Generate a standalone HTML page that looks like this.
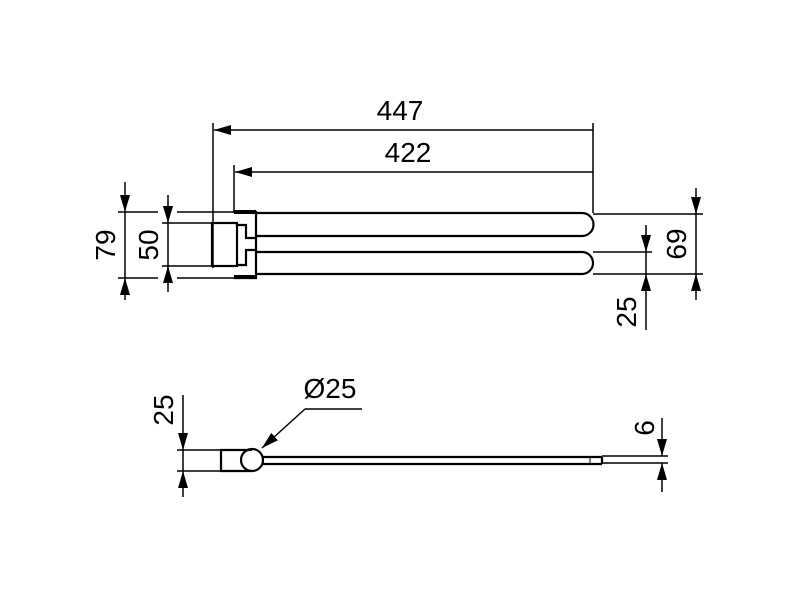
<!DOCTYPE html>
<html><head><meta charset="utf-8"><style>html,body{margin:0;padding:0;background:#fff}</style></head>
<body>
<svg width="800" height="600" viewBox="0 0 800 600" xmlns="http://www.w3.org/2000/svg" font-family="Liberation Sans, sans-serif" font-size="28">
<defs>
<marker id="a" viewBox="0 0 17 10" refX="17" refY="5" markerWidth="17" markerHeight="10" markerUnits="userSpaceOnUse" orient="auto"><path d="M0,0 L17,5 L0,10 z" fill="#000"/></marker>
</defs>
<g stroke="#000" stroke-width="1.5" fill="none">
<line x1="213" y1="123" x2="213" y2="268"/>
<line x1="234" y1="165" x2="234" y2="213"/>
<line x1="593" y1="123" x2="593" y2="213"/>
<line x1="593" y1="130" x2="214" y2="130" marker-end="url(#a)"/>
<line x1="593" y1="172" x2="235" y2="172" marker-end="url(#a)"/>
<line x1="118" y1="212" x2="158" y2="212"/><line x1="177" y1="212" x2="234" y2="212"/>
<line x1="118" y1="278" x2="158" y2="278"/><line x1="177" y1="278" x2="234" y2="278"/>
<line x1="162" y1="223" x2="212" y2="223"/><line x1="162" y1="266" x2="212" y2="266"/>
<line x1="125" y1="182" x2="125" y2="212" marker-end="url(#a)"/>
<line x1="125" y1="300" x2="125" y2="278" marker-end="url(#a)"/>
<line x1="125" y1="212" x2="125" y2="278"/>
<line x1="168" y1="195" x2="168" y2="223" marker-end="url(#a)"/>
<line x1="168" y1="292" x2="168" y2="266" marker-end="url(#a)"/>
<line x1="168" y1="223" x2="168" y2="266"/>
<g stroke-width="2.2">
<rect x="212" y="223" width="25" height="43"/>
<path d="M234 212 H256 V278 H234"/>
<path d="M237 223 V225 H246 V238 H256 M256 250 H246 V265 H237"/>
</g>
<line x1="234" y1="212" x2="256" y2="212" stroke-width="4"/>
<line x1="234" y1="277" x2="256" y2="277" stroke-width="4"/>
<g stroke-width="2.2">
<path d="M256 213 H582 A11.5 11.5 0 0 1 582 236 H256"/>
<path d="M256 252 H582 A11 11 0 0 1 582 274 H256"/>
</g>
<line x1="593" y1="214" x2="703" y2="214"/>
<line x1="593" y1="274" x2="703" y2="274"/>
<line x1="593" y1="252" x2="652" y2="252"/>
<line x1="696" y1="188" x2="696" y2="214" marker-end="url(#a)"/>
<line x1="696" y1="300" x2="696" y2="274" marker-end="url(#a)"/>
<line x1="696" y1="214" x2="696" y2="274"/>
<line x1="646" y1="225" x2="646" y2="252" marker-end="url(#a)"/>
<line x1="646" y1="330" x2="646" y2="274" marker-end="url(#a)"/>
<line x1="646" y1="252" x2="646" y2="274"/>
<line x1="177" y1="450" x2="221" y2="450"/>
<line x1="177" y1="471" x2="221" y2="471"/>
<line x1="183" y1="395" x2="183" y2="450" marker-end="url(#a)"/>
<line x1="183" y1="497" x2="183" y2="471" marker-end="url(#a)"/>
<line x1="183" y1="450" x2="183" y2="471"/>
<g stroke-width="2.2">
<path d="M252 450 H221 V471 H252"/>
<circle cx="252" cy="460" r="11"/>
<line x1="263" y1="457" x2="602" y2="457"/>
<line x1="263" y1="464" x2="602" y2="464"/>
<line x1="602" y1="457" x2="602" y2="464"/>
</g>
<line x1="590" y1="457" x2="590" y2="464" stroke-width="1"/>
<line x1="602" y1="456" x2="668" y2="456"/>
<line x1="602" y1="463" x2="668" y2="463"/>
<line x1="662" y1="418" x2="662" y2="456" marker-end="url(#a)"/>
<line x1="662" y1="492" x2="662" y2="463" marker-end="url(#a)"/>
<line x1="362" y1="409" x2="305" y2="409"/>
<line x1="305" y1="409" x2="262" y2="448" marker-end="url(#a)"/>
</g>
<g fill="#000">
<text x="400" y="120" text-anchor="middle">447</text>
<text x="408" y="162" text-anchor="middle">422</text>
<text transform="translate(115,245) rotate(-90)" text-anchor="middle">79</text>
<text transform="translate(158,245) rotate(-90)" text-anchor="middle">50</text>
<text transform="translate(686,244) rotate(-90)" text-anchor="middle">69</text>
<text transform="translate(636,312) rotate(-90)" text-anchor="middle">25</text>
<text transform="translate(173,410) rotate(-90)" text-anchor="middle">25</text>
<text transform="translate(654,428) rotate(-90)" text-anchor="middle">6</text>
<text x="330" y="398" text-anchor="middle">Ø25</text>
</g>
</svg>
</body></html>
